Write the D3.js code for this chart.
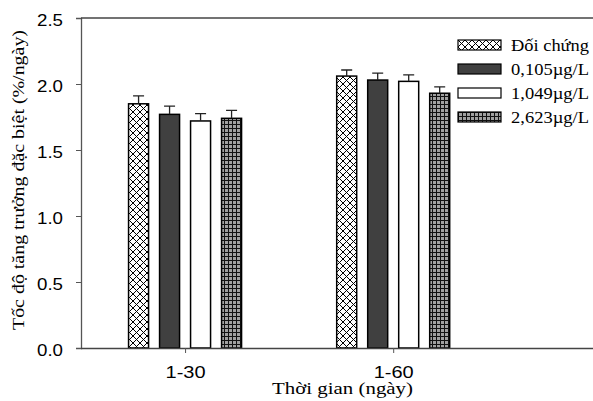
<!DOCTYPE html>
<html>
<head>
<meta charset="utf-8">
<script src="https://cdn.jsdelivr.net/npm/d3@7"></script>
<style>
  body { margin: 0; background: #fff; }
  svg { display: block; }
</style>
</head>
<body>
<div id="chart"></div>
<script>
const categories = ["1-30", "1-60"];
const seriesNames = ["Đối chứng", "0,105µg/L", "1,049µg/L", "2,623µg/L"];
const means = [
    [1.85, 2.06],
    [1.77, 2.03],
    [1.72, 2.02],
    [1.74, 1.93]
];
const errors = [
    [0.06, 0.046],
    [0.063, 0.053],
    [0.056, 0.049],
    [0.06, 0.048]
];
const yTicks = [0, 0.5, 1.0, 1.5, 2.0, 2.5];

const width = 593, height = 401;
const plotLeft = 81, plotTop = 18, plotBottom = 348, plotRight = 593;
const sans = "'Liberation Sans', Arial, sans-serif";
const serif = "'Liberation Serif', 'Times New Roman', serif";

const svg = d3.select("#chart").append("svg")
    .attr("width", width)
    .attr("height", height);

const defs = svg.append("defs");

// cross hatch
const hatch = defs.append("pattern")
    .attr("id", "hatch")
    .attr("patternUnits", "userSpaceOnUse")
    .attr("width", 7).attr("height", 7);
hatch.append("rect").attr("width", 7).attr("height", 7).attr("fill", "#fff");
hatch.append("path").attr("d", "M0,0L7,7M7,0L0,7")
    .attr("stroke", "#000").attr("stroke-width", 1);

// grid checker
const grid = defs.append("pattern")
    .attr("id", "grid")
    .attr("patternUnits", "userSpaceOnUse")
    .attr("width", 4).attr("height", 4);
grid.append("rect").attr("width", 4).attr("height", 4).attr("fill", "#a0a0a0");
grid.append("path").attr("d", "M0,0.5H4M0.5,0V4")
    .attr("stroke", "#111").attr("stroke-width", 1);

const fills = ["url(#hatch)", "#404040", "#ffffff", "url(#grid)"];

const x = d3.scaleLinear().domain([0.5, 2.96]).range([plotLeft, plotRight]);
const y = d3.scaleLinear().domain([0, 2.5]).range([plotBottom, plotTop]);

const barW = 20, barStep = 31;

// bars
seriesNames.forEach((name, s) => {
    const g = svg.append("g");
    g.selectAll("rect")
        .data(categories)
        .enter()
        .append("rect")
        .attr("x", (d, i) => x(i + 1) + (s - 1.5) * barStep - barW / 2)
        .attr("y", (d, i) => y(means[s][i]))
        .attr("width", barW)
        .attr("height", (d, i) => y(0) - y(means[s][i]))
        .attr("fill", fills[s])
        .attr("stroke", "#000")
        .attr("stroke-width", 1.5);

    // error bars
    g.selectAll("path.err")
        .data(categories)
        .enter()
        .append("path")
        .attr("class", "err")
        .attr("d", (d, i) => {
            const cx = x(i + 1) + (s - 1.5) * barStep;
            const y0 = y(means[s][i]);
            const y1 = y(means[s][i] + errors[s][i]);
            return `M${cx},${y0}V${y1}M${cx - 5.5},${y1}H${cx + 5.5}`;
        })
        .attr("stroke", "#222")
        .attr("stroke-width", 1.3)
        .attr("fill", "none");
});

// y axis
const yAxis = svg.append("g")
    .attr("transform", `translate(${plotLeft},0)`)
    .call(d3.axisLeft(y).tickValues(yTicks).tickSize(5).tickPadding(13).tickFormat(d3.format(".1f")));
yAxis.select(".domain").attr("stroke", "#555").attr("stroke-width", 1.3);
yAxis.selectAll(".tick line").attr("stroke", "#555");
yAxis.selectAll("text")
    .attr("fill", "#000")
    .attr("dy", "0.45em")
    .attr("textLength", 26)
    .attr("lengthAdjust", "spacingAndGlyphs")
    .style("font-family", sans)
    .style("font-size", "16.3px");

// x axis
const xAxis = svg.append("g")
    .attr("transform", `translate(0,${plotBottom})`)
    .call(d3.axisBottom(x).tickValues([1, 2]).tickSize(5).tickPadding(13.5)
        .tickFormat(d => categories[d - 1]));
xAxis.select(".domain").attr("d", `M${plotLeft},0.5H${plotRight}`)
    .attr("stroke", "#444").attr("stroke-width", 1.5);
xAxis.selectAll(".tick line").attr("stroke", "#555");
xAxis.selectAll("text")
    .attr("fill", "#000")
    .attr("textLength", 40)
    .attr("lengthAdjust", "spacingAndGlyphs")
    .style("font-family", sans)
    .style("font-size", "16.3px");

// top frame line
svg.append("line")
    .attr("x1", plotLeft).attr("x2", plotRight)
    .attr("y1", plotTop).attr("y2", plotTop)
    .attr("stroke", "#444").attr("stroke-width", 1.3);

// axis titles
svg.append("text")
    .attr("x", 342.5).attr("y", 394)
    .attr("text-anchor", "middle")
    .attr("textLength", 141)
    .attr("lengthAdjust", "spacingAndGlyphs")
    .style("font-family", serif)
    .style("font-size", "17px")
    .text("Thời gian (ngày)");

svg.append("text")
    .attr("transform", `translate(24,180) rotate(-90)`)
    .attr("text-anchor", "middle")
    .attr("textLength", 300)
    .attr("lengthAdjust", "spacingAndGlyphs")
    .style("font-family", serif)
    .style("font-size", "16.5px")
    .text("Tốc độ tăng trưởng đặc biệt (%/ngày)");

// legend
const legend = svg.append("g").attr("transform", "translate(458,40)");
seriesNames.forEach((name, s) => {
    const row = legend.append("g").attr("transform", `translate(0,${s * 24})`);
    row.append("rect")
        .attr("width", 43).attr("height", 10)
        .attr("fill", fills[s])
        .attr("stroke", "#000").attr("stroke-width", 1.2);
    row.append("text")
        .attr("x", 53).attr("y", 11)
        .attr("textLength", 78)
        .attr("lengthAdjust", "spacingAndGlyphs")
        .style("font-family", serif)
        .style("font-size", "16px")
        .text(name);
});
</script>
</body>
</html>
